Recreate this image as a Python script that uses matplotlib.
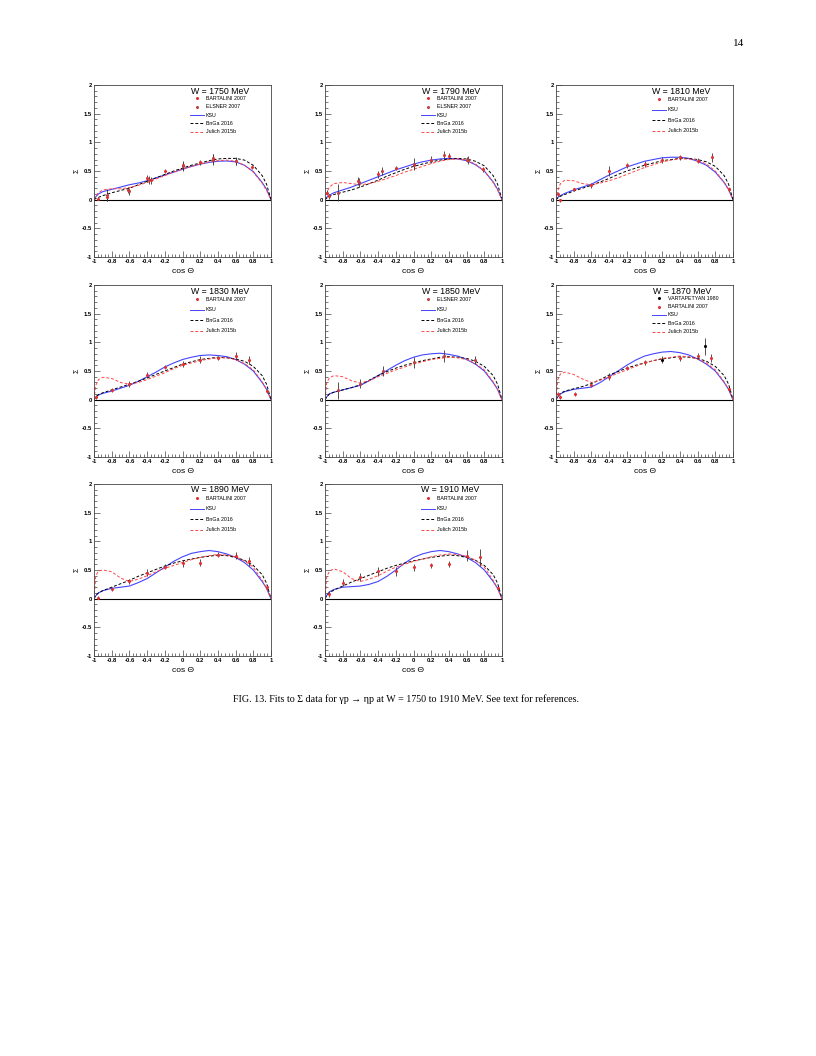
import numpy as np
import matplotlib
matplotlib.use("Agg")
import matplotlib.pyplot as plt
from matplotlib.ticker import MultipleLocator

plt.rcParams['font.family'] = ['Liberation Sans', 'DejaVu Sans']

# common cos(theta) grid for the model curves
cos_grid = [-1, -0.98, -0.95, -0.9, -0.8, -0.7, -0.6, -0.5, -0.4, -0.3, -0.2, -0.1,
            0, 0.1, 0.2, 0.3, 0.4, 0.5, 0.6, 0.7, 0.8, 0.9, 0.95, 1]

energies = [1750, 1790, 1810, 1830, 1850, 1870, 1890, 1910]

# ---- model curves ----
ksu_1750 = [0, 0.05, 0.10, 0.14, 0.18, 0.22, 0.26, 0.29, 0.33, 0.38, 0.43, 0.48, 0.53, 0.58, 0.62, 0.65, 0.67, 0.675, 0.66, 0.60, 0.49, 0.30, 0.18, 0]
bnga_1750 = [0, 0.02, 0.04, 0.07, 0.12, 0.16, 0.20, 0.26, 0.32, 0.38, 0.44, 0.50, 0.55, 0.60, 0.64, 0.68, 0.71, 0.72, 0.72, 0.69, 0.60, 0.42, 0.27, 0]
jul_1750 = [0, 0.07, 0.12, 0.17, 0.19, 0.19, 0.21, 0.25, 0.30, 0.36, 0.42, 0.48, 0.53, 0.58, 0.62, 0.66, 0.68, 0.69, 0.67, 0.60, 0.48, 0.29, 0.16, 0]

ksu_1790 = [0, 0.04, 0.08, 0.12, 0.17, 0.22, 0.28, 0.34, 0.40, 0.46, 0.52, 0.57, 0.62, 0.66, 0.69, 0.71, 0.72, 0.71, 0.68, 0.61, 0.50, 0.31, 0.18, 0]
bnga_1790 = [0, 0.03, 0.06, 0.09, 0.13, 0.17, 0.22, 0.28, 0.34, 0.41, 0.47, 0.53, 0.58, 0.62, 0.66, 0.69, 0.71, 0.72, 0.71, 0.67, 0.59, 0.42, 0.27, 0]
jul_1790 = [0, 0.12, 0.22, 0.28, 0.30, 0.28, 0.26, 0.28, 0.32, 0.37, 0.42, 0.48, 0.53, 0.58, 0.63, 0.67, 0.70, 0.71, 0.69, 0.62, 0.50, 0.30, 0.17, 0]

ksu_1810 = [0, 0.04, 0.07, 0.11, 0.17, 0.22, 0.27, 0.35, 0.43, 0.50, 0.57, 0.62, 0.67, 0.70, 0.73, 0.74, 0.74, 0.72, 0.67, 0.60, 0.48, 0.30, 0.18, 0]
bnga_1810 = [0, 0.03, 0.06, 0.09, 0.15, 0.20, 0.25, 0.31, 0.37, 0.44, 0.50, 0.55, 0.60, 0.64, 0.68, 0.70, 0.72, 0.72, 0.70, 0.66, 0.58, 0.42, 0.27, 0]
jul_1810 = [0, 0.15, 0.28, 0.34, 0.33, 0.28, 0.26, 0.29, 0.33, 0.38, 0.44, 0.50, 0.56, 0.61, 0.66, 0.69, 0.71, 0.71, 0.69, 0.62, 0.50, 0.30, 0.17, 0]

ksu_1830 = [0, 0.04, 0.08, 0.11, 0.15, 0.20, 0.25, 0.32, 0.40, 0.48, 0.57, 0.64, 0.70, 0.74, 0.77, 0.78, 0.77, 0.75, 0.70, 0.62, 0.50, 0.30, 0.18, 0]
bnga_1830 = [0, 0.05, 0.09, 0.12, 0.17, 0.22, 0.27, 0.32, 0.38, 0.44, 0.50, 0.56, 0.62, 0.66, 0.70, 0.72, 0.74, 0.73, 0.71, 0.67, 0.58, 0.42, 0.27, 0]
jul_1830 = [0, 0.25, 0.35, 0.39, 0.37, 0.30, 0.27, 0.30, 0.35, 0.41, 0.47, 0.54, 0.60, 0.64, 0.68, 0.71, 0.73, 0.73, 0.70, 0.63, 0.52, 0.31, 0.18, 0]

ksu_1850 = [0, 0.05, 0.10, 0.13, 0.17, 0.21, 0.25, 0.33, 0.42, 0.51, 0.60, 0.68, 0.74, 0.78, 0.80, 0.81, 0.79, 0.76, 0.70, 0.62, 0.50, 0.30, 0.18, 0]
bnga_1850 = [0, 0.05, 0.10, 0.13, 0.17, 0.21, 0.26, 0.34, 0.42, 0.49, 0.55, 0.60, 0.64, 0.68, 0.71, 0.74, 0.75, 0.74, 0.72, 0.67, 0.58, 0.42, 0.27, 0]
jul_1850 = [0, 0.30, 0.38, 0.42, 0.40, 0.33, 0.29, 0.33, 0.40, 0.46, 0.52, 0.57, 0.62, 0.66, 0.70, 0.72, 0.74, 0.73, 0.70, 0.63, 0.52, 0.31, 0.18, 0]

ksu_1870 = [0, 0.05, 0.10, 0.14, 0.18, 0.20, 0.22, 0.30, 0.40, 0.50, 0.60, 0.69, 0.76, 0.80, 0.83, 0.84, 0.82, 0.78, 0.71, 0.62, 0.50, 0.30, 0.18, 0]
bnga_1870 = [0, 0.06, 0.11, 0.15, 0.19, 0.23, 0.28, 0.35, 0.43, 0.49, 0.55, 0.60, 0.64, 0.68, 0.71, 0.73, 0.75, 0.74, 0.72, 0.67, 0.58, 0.42, 0.27, 0]
jul_1870 = [0, 0.35, 0.45, 0.48, 0.44, 0.36, 0.30, 0.34, 0.40, 0.46, 0.52, 0.58, 0.64, 0.68, 0.72, 0.74, 0.76, 0.75, 0.71, 0.64, 0.52, 0.31, 0.18, 0]

ksu_1890 = [0, 0.05, 0.10, 0.14, 0.18, 0.20, 0.22, 0.28, 0.35, 0.45, 0.55, 0.65, 0.73, 0.79, 0.82, 0.84, 0.82, 0.78, 0.72, 0.63, 0.50, 0.30, 0.18, 0]
bnga_1890 = [0, 0.06, 0.10, 0.14, 0.20, 0.26, 0.32, 0.39, 0.45, 0.51, 0.57, 0.62, 0.66, 0.69, 0.72, 0.74, 0.76, 0.75, 0.72, 0.67, 0.58, 0.42, 0.27, 0]
jul_1890 = [0, 0.40, 0.48, 0.50, 0.47, 0.36, 0.30, 0.34, 0.40, 0.47, 0.53, 0.58, 0.63, 0.68, 0.72, 0.75, 0.77, 0.76, 0.73, 0.66, 0.55, 0.32, 0.18, 0]

ksu_1910 = [0, 0.06, 0.12, 0.16, 0.20, 0.21, 0.22, 0.25, 0.30, 0.39, 0.50, 0.62, 0.72, 0.78, 0.82, 0.84, 0.82, 0.78, 0.72, 0.63, 0.50, 0.30, 0.18, 0]
bnga_1910 = [0, 0.06, 0.10, 0.15, 0.22, 0.29, 0.35, 0.41, 0.47, 0.53, 0.58, 0.62, 0.66, 0.69, 0.72, 0.74, 0.76, 0.75, 0.72, 0.67, 0.58, 0.42, 0.27, 0]
jul_1910 = [0, 0.38, 0.48, 0.52, 0.47, 0.35, 0.30, 0.34, 0.40, 0.48, 0.55, 0.60, 0.65, 0.69, 0.73, 0.76, 0.78, 0.77, 0.74, 0.67, 0.55, 0.32, 0.18, 0]

# ---- measured points: x, y, error, source (B=BARTALINI, E=ELSNER, V=VARTAPETYAN) ----
dx_1750 = [-0.95, -0.85, -0.62, -0.4, -0.36, -0.2, 0.0, 0.2, 0.35, 0.6, 0.78, -0.85, -0.6, -0.38, 0.0, 0.35, 0.6]
dy_1750 = [0.02, 0.05, 0.17, 0.37, 0.34, 0.50, 0.60, 0.65, 0.72, 0.67, 0.57, 0.08, 0.15, 0.35, 0.58, 0.70, 0.68]
de_1750 = [0.03, 0.08, 0.05, 0.06, 0.06, 0.04, 0.08, 0.05, 0.08, 0.06, 0.04, 0.10, 0.06, 0.07, 0.08, 0.09, 0.07]
ds_1750 = list("BBBBBBBBBBBEEEEEE")

dx_1790 = [-0.98, -0.95, -0.63, -0.4, -0.2, 0.0, 0.2, 0.4, 0.6, 0.78, -0.85, -0.62, -0.36, 0.0, 0.35, 0.62]
dy_1790 = [0.12, 0.06, 0.33, 0.44, 0.55, 0.60, 0.70, 0.77, 0.70, 0.53, 0.12, 0.30, 0.50, 0.62, 0.78, 0.70]
de_1790 = [0.04, 0.04, 0.07, 0.06, 0.04, 0.06, 0.06, 0.05, 0.05, 0.04, 0.15, 0.08, 0.07, 0.10, 0.07, 0.07]
ds_1790 = list("BBBBBBBBBBEEEEEE")

dx_1810 = [-0.98, -0.95, -0.8, -0.6, -0.4, -0.2, 0.0, 0.2, 0.4, 0.6, 0.76, 0.95]
dy_1810 = [0.10, -0.01, 0.18, 0.25, 0.50, 0.60, 0.62, 0.69, 0.74, 0.68, 0.74, 0.18]
de_1810 = [0.03, 0.03, 0.03, 0.04, 0.08, 0.04, 0.05, 0.05, 0.04, 0.04, 0.08, 0.03]
ds_1810 = list("BBBBBBBBBBBB")

dx_1830 = [-0.98, -0.8, -0.6, -0.4, -0.2, 0.0, 0.2, 0.4, 0.6, 0.75, 0.95]
dy_1830 = [0.05, 0.17, 0.27, 0.43, 0.57, 0.62, 0.70, 0.73, 0.77, 0.70, 0.15]
de_1830 = [0.03, 0.03, 0.05, 0.06, 0.04, 0.05, 0.06, 0.04, 0.07, 0.07, 0.03]
ds_1830 = list("BBBBBBBBBBB")

dx_1850 = [-0.85, -0.6, -0.35, 0.0, 0.35, 0.7]
dy_1850 = [0.16, 0.28, 0.50, 0.65, 0.76, 0.69]
de_1850 = [0.15, 0.08, 0.08, 0.10, 0.10, 0.07]
ds_1850 = list("EEEEEE")

dx_1870 = [-0.98, -0.95, -0.78, -0.6, -0.4, -0.2, 0.0, 0.4, 0.6, 0.75, 0.95, 0.2, 0.68]
dy_1870 = [0.10, 0.05, 0.10, 0.26, 0.40, 0.55, 0.65, 0.72, 0.76, 0.72, 0.18, 0.70, 0.93]
de_1870 = [0.03, 0.03, 0.03, 0.04, 0.06, 0.04, 0.05, 0.05, 0.05, 0.07, 0.03, 0.06, 0.15]
ds_1870 = list("BBBBBBBBBBBVV")

dx_1890 = [-0.95, -0.8, -0.6, -0.4, -0.2, 0.0, 0.2, 0.4, 0.6, 0.75, 0.95]
dy_1890 = [0.02, 0.17, 0.30, 0.45, 0.56, 0.62, 0.63, 0.77, 0.75, 0.65, 0.20]
de_1890 = [0.03, 0.04, 0.04, 0.06, 0.05, 0.06, 0.06, 0.05, 0.06, 0.08, 0.03]
ds_1890 = list("BBBBBBBBBBB")

dx_1910 = [-0.95, -0.8, -0.6, -0.4, -0.2, 0.0, 0.2, 0.4, 0.6, 0.75, 0.95]
dy_1910 = [0.08, 0.28, 0.38, 0.48, 0.48, 0.55, 0.58, 0.60, 0.75, 0.72, 0.18]
de_1910 = [0.05, 0.06, 0.07, 0.08, 0.08, 0.06, 0.05, 0.05, 0.10, 0.15, 0.03]
ds_1910 = list("BBBBBBBBBBB")

legend_sources = {
    1750: ["B", "E"], 1790: ["B", "E"], 1810: ["B"], 1830: ["B"],
    1850: ["E"], 1870: ["V", "B"], 1890: ["B"], 1910: ["B"],
}
source_names = {"B": "BARTALINI 2007", "E": "ELSNER 2007", "V": "VARTAPETYAN 1980"}
source_color = {"B": "#e03030", "E": "#c04040", "V": "black"}

curves = {
    1750: (ksu_1750, bnga_1750, jul_1750), 1790: (ksu_1790, bnga_1790, jul_1790),
    1810: (ksu_1810, bnga_1810, jul_1810), 1830: (ksu_1830, bnga_1830, jul_1830),
    1850: (ksu_1850, bnga_1850, jul_1850), 1870: (ksu_1870, bnga_1870, jul_1870),
    1890: (ksu_1890, bnga_1890, jul_1890), 1910: (ksu_1910, bnga_1910, jul_1910),
}
points = {
    1750: (dx_1750, dy_1750, de_1750, ds_1750), 1790: (dx_1790, dy_1790, de_1790, ds_1790),
    1810: (dx_1810, dy_1810, de_1810, ds_1810), 1830: (dx_1830, dy_1830, de_1830, ds_1830),
    1850: (dx_1850, dy_1850, de_1850, ds_1850), 1870: (dx_1870, dy_1870, de_1870, ds_1870),
    1890: (dx_1890, dy_1890, de_1890, ds_1890), 1910: (dx_1910, dy_1910, de_1910, ds_1910),
}

KSU_C, BNGA_C, JUL_C = "#4545ff", "black", "#ff4545"

W, H = 816, 1056
fig = plt.figure(figsize=(W / 100, H / 100), dpi=100)

col_left = [94, 325, 556]
row_top = [85, 285, 484]
aw, ah = 177, 172

for k, e in enumerate(energies):
    r, c = divmod(k, 3)
    ax = fig.add_axes([col_left[c] / W, 1 - (row_top[r] + ah) / H, aw / W, ah / H])
    ax.set_xlim(-1, 1)
    ax.set_ylim(-1, 2)
    ax.axhline(0, color="black", lw=0.8)

    ksu, bnga, jul = curves[e]
    ax.plot(cos_grid, ksu, color=KSU_C, lw=0.8)
    ax.plot(cos_grid, bnga, color=BNGA_C, lw=0.7, ls=(0, (3, 2)))
    ax.plot(cos_grid, jul, color=JUL_C, lw=0.7, ls=(0, (3, 2)))

    x, y, err, src = points[e]
    for xi, yi, ei, si in zip(x, y, err, src):
        ax.errorbar(xi, yi, yerr=ei, fmt="o", ms=1.2, color=source_color[si],
                    ecolor="#403030", elinewidth=0.6, capsize=0)

    # ticks in ROOT style
    ax.xaxis.set_major_locator(MultipleLocator(0.2))
    ax.xaxis.set_minor_locator(MultipleLocator(0.04))
    ax.yaxis.set_major_locator(MultipleLocator(0.5))
    ax.yaxis.set_minor_locator(MultipleLocator(0.1))
    ax.tick_params(which="both", direction="in", top=False, right=False,
                   labelsize=4.2, pad=1.5, width=0.5, color="#444444")
    ax.tick_params(which="major", length=4)
    ax.tick_params(which="minor", length=2)
    ax.set_xticklabels([("%g" % v) for v in np.round(ax.get_xticks(), 1)], fontweight="bold")
    ax.set_yticklabels([("%g" % v) for v in ax.get_yticks()], fontweight="bold")
    for s in ax.spines.values():
        s.set_linewidth(0.6)
        s.set_color("#444444")

    ax.set_xlabel("cos \u0398", fontsize=6, labelpad=3)
    ax.set_ylabel("\u03a3", fontsize=5, labelpad=1, rotation=90)

    # legend drawn by hand
    ax.text(0.71, 1 - 6 / ah, "W = %d MeV" % e, transform=ax.transAxes,
            ha="center", va="center", fontsize=6.3)
    entries = [(source_names[s], "pt", source_color[s]) for s in legend_sources[e]]
    entries += [("KSU", "solid", KSU_C), ("BnGa 2016", "dash", BNGA_C),
                ("Julich 2015b", "dash", JUL_C)]
    n = len(entries)
    for i, (label, kind, col) in enumerate(entries):
        yy = 1 - (9 + (i + 0.5) * 42 / n) / ah
        if kind == "pt":
            ax.plot([0.583], [yy], "o", ms=1.2, color=col, transform=ax.transAxes)
        else:
            ax.plot([0.54, 0.62], [yy, yy], color=col, lw=0.7,
                    ls="-" if kind == "solid" else (0, (3, 2)), transform=ax.transAxes)
        ax.text(0.632, yy, label, transform=ax.transAxes, ha="left", va="center",
                fontsize=3.8)

fig.text(744 / W, 1 - 43 / H, "14", ha="right", va="center", fontsize=8,
         family=["Liberation Serif", "DejaVu Serif"])
fig.text(406 / W, 1 - 699 / H,
         "FIG. 13. Fits to \u03a3 data for \u03b3p \u2192 \u03b7p at W = 1750 to 1910 MeV. See text for references.",
         ha="center", va="center", fontsize=7.2, family=["Liberation Serif", "DejaVu Serif"])

fig.savefig("out.png", dpi=100)
